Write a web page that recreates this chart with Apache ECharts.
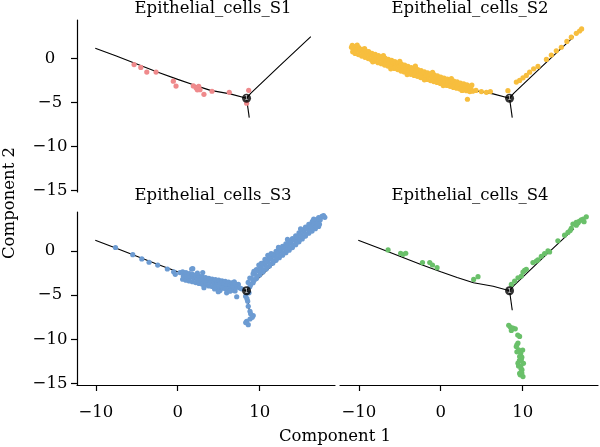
<!DOCTYPE html>
<html>
<head>
<meta charset="utf-8">
<script src="https://cdn.jsdelivr.net/npm/echarts@6/dist/echarts.min.js"></script>
<style>
  html, body { margin: 0; padding: 0; background: #fff; }
  #chart { width: 600px; height: 447px; }
</style>
</head>
<body>
<div id="chart"></div>
<script>
const categories = ["Epithelial_cells_S1", "Epithelial_cells_S2", "Epithelial_cells_S3", "Epithelial_cells_S4"];
const xTicks = [-10, 0, 10];
const yTicks = [-15, -10, -5, 0];

// trajectory (same tree in every panel)
const trunkBranch = [[-10.07, 1.2], [-7.5, 0.3], [-5.0, -0.6], [-2.5, -1.5], [0.0, -2.35], [2.0, -3.0], [4.0, -3.6], [6.4, -4.0], [8.4, -4.5]];
const upperBranch = [[8.4, -4.5], [8.9, -3.95], [12.5, -0.75], [16.25, 2.5]];
const lowerBranch = [[8.4, -4.5], [8.73, -6.7]];
const branchPoint = [[8.4, -4.5]];

const cellsS1 = [
  [-5.33, -0.67], [-4.51, -0.99], [-3.78, -1.52], [-2.65, -1.52], [-0.54, -2.55], [-0.21, -3.11],
  [1.9, -3.09], [2.23, -3.29], [2.56, -3.15], [2.72, -3.52], [2.39, -3.54], [3.2, -4.05],
  [4.18, -3.7], [6.29, -3.81], [8.66, -3.59], [8.41, -5.06]
];

const cellsS2 = [
  [-10.8, 1.52], [-10.7, 1.12], [-10.75, 0.78], [-10.4, 1.4], [-10.25, 1.0], [-10.45, 0.6],
  [-10.0, 1.25], [-9.85, 0.86], [-10.05, 0.47], [-9.6, 1.05], [-9.45, 0.7], [-9.65, 0.3],
  [-9.2, 0.93], [-9.05, 0.52], [-9.25, 0.16], [-8.8, 0.8], [-8.65, 0.4], [-8.85, 0.02],
  [-8.4, 0.62], [-8.25, 0.27], [-8.45, -0.14], [-8.0, 0.5], [-7.85, 0.08], [-8.05, -0.28],
  [-7.6, 0.34], [-7.45, -0.04], [-7.65, -0.45], [-7.2, 0.2], [-7.05, -0.2], [-7.25, -0.56],
  [-6.8, 0.06], [-6.65, -0.3], [-6.85, -0.72], [-6.4, -0.08], [-6.25, -0.47], [-6.45, -0.84],
  [-6.0, -0.2], [-5.85, -0.6], [-6.05, -0.98], [-5.6, -0.34], [-5.45, -0.72], [-5.65, -1.1],
  [-5.2, -0.47], [-5.05, -0.88], [-5.25, -1.24], [-4.8, -0.6], [-4.65, -1.0], [-4.85, -1.4],
  [-4.4, -0.74], [-4.25, -1.12], [-4.45, -1.5], [-4.0, -0.88], [-3.85, -1.26], [-4.05, -1.66],
  [-3.6, -1.02], [-3.45, -1.4], [-3.65, -1.78], [-3.2, -1.12], [-3.05, -1.52], [-3.25, -1.9],
  [-2.8, -1.25], [-2.65, -1.64], [-2.85, -2.0], [-2.4, -1.36], [-2.25, -1.76], [-2.45, -2.14],
  [-2.0, -1.5], [-1.85, -1.86], [-2.05, -2.24], [-1.6, -1.6], [-1.45, -1.98], [-1.65, -2.36],
  [-1.2, -1.72], [-1.05, -2.1], [-1.25, -2.48], [-0.8, -1.84], [-0.65, -2.22], [-0.85, -2.6],
  [-0.4, -1.96], [-0.25, -2.34], [-0.45, -2.7], [0.0, -2.08], [0.15, -2.46], [-0.05, -2.82],
  [0.4, -2.2], [0.55, -2.56], [0.35, -2.94], [0.8, -2.32], [0.95, -2.68], [0.75, -3.04],
  [1.2, -2.42], [1.35, -2.8], [1.15, -3.14], [1.6, -2.54], [1.75, -2.9], [1.55, -3.26],
  [2.0, -2.64], [2.15, -3.0], [1.95, -3.36], [2.4, -2.76], [2.55, -3.1], [2.35, -3.44],
  [2.8, -2.86], [2.95, -3.2], [2.75, -3.56], [3.2, -2.98], [3.35, -3.3], [3.15, -3.64],
  [3.6, -3.1], [3.7, -3.42], [3.55, -3.74],
  [-10.9, 1.3], [-10.2, 1.55], [-9.3, 1.15], [-8.3, -0.35], [-7.0, 0.35], [-6.1, -1.15],
  [-5.0, -0.3], [-4.1, -1.8], [-3.1, -0.85], [-2.0, -2.4], [-1.0, -1.55], [0.3, -3.05],
  [1.3, -2.25], [2.6, -3.6], [3.8, -3.0], [3.9, -3.7],
  [3.26, -4.61], [4.3, -3.6], [4.96, -3.74], [5.57, -3.82], [6.06, -3.74], [8.2, -3.63],
  [9.23, -2.66], [9.63, -2.47], [10.04, -2.17], [10.45, -1.9], [10.85, -1.53], [11.34, -1.15],
  [11.87, -0.88], [12.9, -0.08], [13.5, 0.42], [14.11, 0.9], [14.72, 1.3], [15.4, 1.96],
  [15.94, 2.45], [16.55, 2.88], [16.95, 3.15], [17.2, 3.38]
];

const cellsS3 = [
  [-7.6, 0.39], [-5.49, -0.42], [-4.39, -0.9], [-3.5, -1.28], [-2.45, -1.6], [-1.27, -2.04],
  [-0.5, -2.36], [-0.3, -2.64], [0.28, -2.45], [1.7, -2.05], [0.68, -2.84], [3.05, -2.45],
  [0.6, -2.36], [0.8, -2.78], [0.6, -3.2], [1.0, -2.46], [1.2, -2.88], [1.0, -3.3],
  [1.4, -2.55], [1.6, -2.97], [1.4, -3.39], [1.8, -2.64], [2.0, -3.06], [1.8, -3.48],
  [2.2, -2.74], [2.4, -3.16], [2.2, -3.58], [2.6, -2.83], [2.8, -3.25], [2.6, -3.67],
  [3.0, -2.92], [3.2, -3.34], [3.0, -3.76], [3.4, -3.01], [3.6, -3.43], [3.4, -3.85],
  [3.8, -3.11], [4.0, -3.53], [3.8, -3.95], [4.2, -3.18], [4.4, -3.6], [4.2, -4.02],
  [4.6, -3.24], [4.8, -3.66], [4.6, -4.08], [5.0, -3.3], [5.2, -3.72], [5.0, -4.14],
  [5.4, -3.37], [5.6, -3.79], [5.4, -4.21], [5.8, -3.43], [6.0, -3.85], [5.8, -4.27],
  [6.2, -3.51], [6.4, -3.93], [6.2, -4.35], [6.6, -3.6], [6.8, -4.02], [6.6, -4.44],
  [7.0, -3.69], [7.2, -4.11], [7.0, -4.53], [7.4, -3.78], [7.6, -4.2], [7.8, -4.28],
  [2.4, -2.5], [4.5, -4.3], [6.9, -3.5], [3.2, -4.15],
  [5.97, -4.73], [6.38, -4.55], [5.16, -4.47], [7.2, -5.18], [4.95, -4.6], [1.83, -2.0],
  [8.7, -4.73], [8.29, -5.11], [8.54, -5.68], [8.61, -6.25], [8.82, -6.82], [9.22, -7.31],
  [8.82, -7.69], [8.41, -7.95], [8.61, -8.33], [8.45, -5.4], [8.9, -7.1], [9.1, -7.5], [8.3, -8.1],
  [8.8, -3.06], [8.6, -3.56], [8.8, -4.06], [9.2, -2.59], [9.0, -3.09], [9.2, -3.59],
  [9.6, -2.12], [9.4, -2.62], [9.6, -3.12], [10.0, -1.71], [9.8, -2.21], [10.0, -2.71],
  [10.4, -1.38], [10.2, -1.88], [10.4, -2.38], [10.8, -1.04], [10.6, -1.54], [10.8, -2.04],
  [11.2, -0.71], [11.0, -1.21], [11.2, -1.71], [11.6, -0.38], [11.4, -0.88], [11.6, -1.38],
  [12.0, -0.06], [11.8, -0.56], [12.0, -1.06], [12.4, 0.23], [12.2, -0.27], [12.4, -0.77],
  [12.8, 0.51], [12.6, 0.01], [12.8, -0.49], [13.2, 0.8], [13.0, 0.3], [13.2, -0.2],
  [13.6, 1.09], [13.4, 0.59], [13.6, 0.09], [14.0, 1.38], [13.8, 0.88], [14.0, 0.38],
  [14.4, 1.71], [14.2, 1.21], [14.4, 0.71], [14.8, 2.03], [14.6, 1.53], [14.8, 1.03],
  [15.2, 2.36], [15.0, 1.86], [15.2, 1.36], [15.6, 2.68], [15.4, 2.18], [15.6, 1.68],
  [16.0, 3.0], [15.8, 2.5], [16.0, 2.0], [16.4, 3.25], [16.2, 2.75], [16.4, 2.25],
  [16.8, 3.51], [16.6, 3.01], [16.8, 2.51], [17.2, 3.77], [17.0, 3.27], [17.2, 2.77],
  [17.6, 3.9], [17.4, 3.53], [17.96, 3.8], [16.5, 3.41],
  [8.9, -3.81], [9.3, -3.34], [9.7, -2.87], [10.1, -2.46], [10.5, -2.13], [10.9, -1.79],
  [11.3, -1.46], [11.7, -1.13], [12.1, -0.81], [12.5, -0.52], [12.9, -0.24], [13.3, 0.05],
  [13.7, 0.34], [14.1, 0.63], [14.5, 0.96], [14.9, 1.28], [15.3, 1.61], [15.7, 1.93],
  [16.1, 2.25], [16.5, 2.5], [16.9, 2.76], [17.3, 3.02],
  [9.9, -1.6], [11.0, -0.5], [13.4, 1.3], [15.0, 2.5], [16.6, 3.6], [17.8, 4.0],
  [10.65, -0.94], [10.2, -1.4], [11.4, -0.3], [12.3, 0.4], [9.3, -2.3]
];

const cellsS4 = [
  [-6.43, 0.11], [-4.9, -0.26], [-4.6, -0.38], [-4.27, -0.26], [-2.23, -1.32], [-1.34, -1.32],
  [-1.01, -1.59], [-0.45, -1.89], [4.02, -3.22], [4.55, -2.91],
  [8.62, -3.78], [9.02, -3.41], [9.43, -3.03], [9.84, -2.84], [10.04, -2.39], [10.24, -2.2],
  [10.45, -2.08], [11.26, -1.32], [11.67, -1.14], [11.87, -1.0], [12.28, -0.6], [12.68, -0.3],
  [13.09, 0.0], [13.29, -0.11], [14.3, 1.14], [15.12, 1.78], [15.53, 2.09], [15.94, 2.55],
  [16.14, 3.03], [16.55, 2.9], [16.55, 3.22], [16.75, 3.15], [17.16, 3.5], [17.4, 3.6],
  [17.77, 3.85], [17.5, 3.3], [16.9, 3.35], [15.8, 2.3],
  [8.3, -8.4], [8.82, -8.71], [8.62, -8.98], [8.5, -8.6], [9.1, -8.8], [9.63, -9.66],
  [9.43, -10.41], [9.22, -10.8], [9.51, -11.17], [9.3, -10.6], [9.76, -11.55], [9.63, -11.93],
  [9.84, -12.31], [9.43, -12.68], [9.76, -13.07], [9.92, -13.44], [9.63, -13.82], [10.04, -14.2],
  [9.9, -12.0], [10.1, -12.7], [9.6, -12.4], [9.8, -13.3], [10.0, -11.2], [9.7, -14.0],
  [9.5, -13.0], [9.9, -13.8], [9.3, -11.4], [9.4, -9.5]
];

const cellSets = [cellsS1, cellsS2, cellsS3, cellsS4];
const colors = ["#EF8A8C", "#F7BE3E", "#6C9BD2", "#6AC06A"];

const FONT = "DejaVu Serif";
const minus = v => String(v).replace("-", "\u2212");

const chart = echarts.init(document.getElementById("chart"));

const grids = [
  { left: 77, top: 20, width: 258, height: 172 },
  { left: 340, top: 20, width: 258, height: 172 },
  { left: 77, top: 212, width: 258, height: 173 },
  { left: 340, top: 212, width: 258, height: 173 }
];

const axisStyle = { color: "#000", width: 1.2 };

const xAxes = grids.map((g, i) => {
  const show = i >= 2;
  return {
    gridIndex: i, type: "value", min: -12.3, max: 19.2,
    splitLine: { show: false },
    axisLine: { show: show, onZero: false, lineStyle: axisStyle },
    axisTick: { show: show, length: 6, customValues: xTicks, lineStyle: axisStyle },
    axisLabel: { show: show, customValues: xTicks, formatter: minus, margin: 19,
      fontFamily: FONT, fontSize: 16.5, color: "#000" }
  };
});

const yAxes = grids.map((g, i) => {
  const show = i === 0 || i === 2;
  return {
    gridIndex: i, type: "value", min: -15.15, max: 4.4,
    splitLine: { show: false },
    axisLine: { show: show, onZero: false, lineStyle: axisStyle },
    axisTick: { show: show, length: 6, customValues: yTicks, lineStyle: axisStyle },
    axisLabel: { show: show, customValues: yTicks, formatter: minus, margin: 27, align: "center",
      fontFamily: FONT, fontSize: 16.5, color: "#000" }
  };
});

const series = [];
grids.forEach((g, i) => {
  [trunkBranch, upperBranch, lowerBranch].forEach(branch => {
    series.push({
      type: "line", xAxisIndex: i, yAxisIndex: i, data: branch,
      symbol: "none", lineStyle: { color: "#000", width: 1.1 }, z: 1, silent: true
    });
  });
  series.push({
    type: "scatter", xAxisIndex: i, yAxisIndex: i, data: cellSets[i],
    symbolSize: 5.2, itemStyle: { color: colors[i], opacity: 1 }, z: 2, silent: true
  });
  series.push({
    type: "scatter", xAxisIndex: i, yAxisIndex: i, data: branchPoint,
    symbolSize: 9, itemStyle: { color: "#000" }, z: 3, silent: true,
    label: { show: true, position: "inside", formatter: "1", color: "#fff", fontSize: 7, fontFamily: "DejaVu Sans" }
  });
});

const titleCenters = [[213, 9], [470, 9], [213, 196], [470, 196]];
const graphic = categories.map((c, i) => ({
  type: "text", x: titleCenters[i][0], y: titleCenters[i][1],
  style: { text: c, fontFamily: FONT, fontSize: 16.5, fill: "#000", textAlign: "center", textVerticalAlign: "middle" }
}));
graphic.push({
  type: "text", x: 335, y: 437,
  style: { text: "Component 1", fontFamily: FONT, fontSize: 16.5, fill: "#000", textAlign: "center", textVerticalAlign: "middle" }
});
graphic.push({
  type: "text", x: 10, y: 203, rotation: Math.PI / 2,
  style: { text: "Component 2", fontFamily: FONT, fontSize: 16.5, fill: "#000", textAlign: "center", textVerticalAlign: "middle" }
});

chart.setOption({
  animation: false,
  backgroundColor: "#fff",
  grid: grids,
  xAxis: xAxes,
  yAxis: yAxes,
  series: series,
  graphic: graphic
});
</script>
</body>
</html>
